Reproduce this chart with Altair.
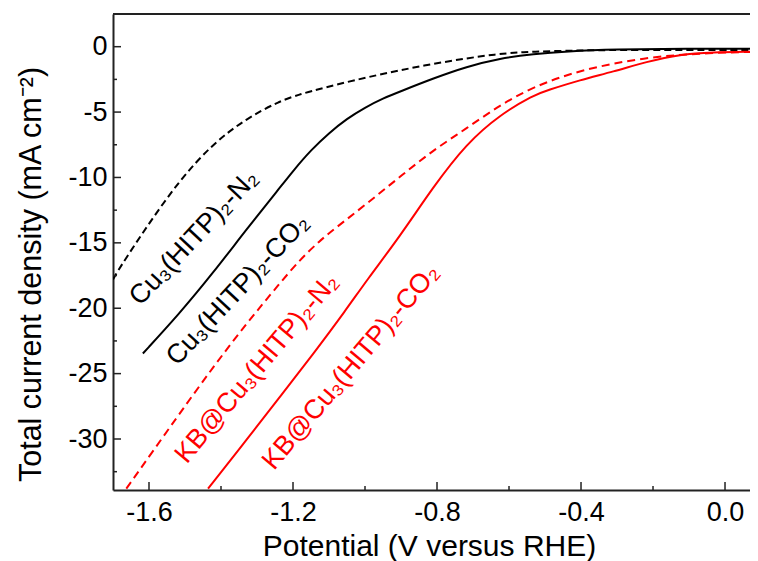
import altair as alt
import pandas as pd

# ---- data ----
# Cu3(HITP)2 under N2 (black dashed)
V_CU_N2 = [-1.70, -1.686, -1.6075, -1.515, -1.422, -1.330, -1.237, -1.181, -1.144, -1.00,
           -0.81, -0.625, -0.533, -0.40, -0.30, -0.10, 0.07]
J_CU_N2 = [-17.8, -17.1, -13.8, -10.2, -7.4, -5.5, -4.15, -3.65, -3.35, -2.35,
           -1.27, -0.5, -0.38, -0.28, -0.25, -0.25, -0.25]

# Cu3(HITP)2 under CO2 (black solid)
V_CU_CO2 = [-1.617, -1.515, -1.422, -1.330, -1.237, -1.20, -1.15, -1.10, -1.05, -1.00, -0.95,
            -0.90, -0.81, -0.718, -0.625, -0.532, -0.44, -0.31, -0.10, 0.07]
J_CU_CO2 = [-23.46, -20.4, -17.3, -14.0, -10.8, -9.5, -7.9, -6.6, -5.5, -4.65, -3.95,
            -3.4, -2.42, -1.53, -0.89, -0.56, -0.35, -0.2, -0.15, -0.15]

# KB@Cu3(HITP)2 under N2 (red dashed)
V_KB_N2 = [-1.663, -1.515, -1.422, -1.330, -1.237, -1.181, -1.126, -1.088, -0.995, -0.903,
           -0.81, -0.718, -0.625, -0.532, -0.403, -0.218, -0.032, 0.07]
J_KB_N2 = [-33.8, -28.05, -24.5, -21.2, -18.1, -16.3, -14.85, -14.0, -12.0, -9.95,
           -7.9, -6.25, -4.46, -3.06, -1.78, -0.77, -0.46, -0.4]

# KB@Cu3(HITP)2 under CO2 (red solid)
V_KB_CO2 = [-1.436, -1.330, -1.237, -1.144, -1.052, -0.995, -0.903, -0.81, -0.718, -0.625,
            -0.532, -0.495, -0.403, -0.31, -0.218, -0.125, -0.032, 0.07]
J_KB_CO2 = [-33.8, -30.1, -26.8, -23.5, -20.1, -17.85, -14.5, -10.7, -7.4, -5.2,
            -3.7, -3.35, -2.55, -1.91, -1.15, -0.58, -0.43, -0.38]

# annotations
LABELS = ["Cu\u2083(HITP)\u2082-N\u2082", "Cu\u2083(HITP)\u2082-CO\u2082",
          "KB@Cu\u2083(HITP)\u2082-N\u2082", "KB@Cu\u2083(HITP)\u2082-CO\u2082"]
LABEL_V = [-1.475, -1.353, -1.300, -1.039]
LABEL_J = [-14.6, -18.6, -24.6, -24.5]
LABEL_COLOR = ["#000000", "#000000", "#ff0000", "#ff0000"]
LABEL_ANGLE = [313, 313, 310, 310]

# ticks
X_MAJOR = [-1.6, -1.2, -0.8, -0.4, 0.0]
X_MINOR = [-1.4, -1.0, -0.6, -0.2]
Y_MAJOR = [0, -5, -10, -15, -20, -25, -30]
Y_MINOR = [-2.5, -7.5, -12.5, -17.5, -22.5, -27.5, -32.5]

X_DOMAIN = [-1.7, 0.0694]
Y_DOMAIN = [-33.9, 2.5]

W, H = 637, 476
FONT = "Liberation Sans, Arial, Helvetica, sans-serif"
AX = "#222222"

xs = alt.Scale(domain=X_DOMAIN, nice=False, zero=False)
ys = alt.Scale(domain=Y_DOMAIN, nice=False, zero=False)

x_axis = alt.Axis(
    values=X_MAJOR, format=".1f",
    labelExpr="replace(datum.label, '\u2212', '-')",
    ticks=False, grid=False, domainColor=AX, domainWidth=2,
    labelFont=FONT, labelFontSize=27, labelColor="#000", labelPadding=9,
    labelFlush=False,
    title="Potential (V versus RHE)", titleFont=FONT, titleFontSize=30,
    titleFontWeight="normal", titleColor="#000",
    titleX=316, titleY=65, titleAlign="center", titleBaseline="alphabetic",
)
y_axis = alt.Axis(
    values=Y_MAJOR, format="d",
    labelExpr="replace(datum.label, '\u2212', '-')",
    ticks=False, grid=False, domainColor=AX, domainWidth=2,
    labelFont=FONT, labelFontSize=27, labelColor="#000", labelPadding=6,
    labelFlush=False,
    title="Total current density (mA cm\u207b\u00b2)", titleFont=FONT, titleFontSize=30.5,
    titleFontWeight="normal", titleColor="#000",
    titleX=-73, titleY=260, titleAngle=270, titleAlign="center", titleBaseline="alphabetic",
)


def X(field="V:Q"):
    return alt.X(field, scale=xs, axis=x_axis)


def Y(field="J:Q"):
    return alt.Y(field, scale=ys, axis=y_axis)


def line(vs, js, color, dash=None):
    df = pd.DataFrame({"V": vs, "J": js})
    kw = dict(color=color, strokeWidth=2, clip=True, interpolate="basis")
    if dash is not None:
        kw["strokeDash"] = dash
    return alt.Chart(df).mark_line(**kw).encode(x=X(), y=Y(), order=alt.Order("V:Q"))


l1 = line(V_CU_N2, J_CU_N2, "#000000", [7, 4])
l2 = line(V_CU_CO2, J_CU_CO2, "#000000")
l3 = line(V_KB_N2, J_KB_N2, "#ff0000", [8, 5])
l4 = line(V_KB_CO2, J_KB_CO2, "#ff0000")

# inward ticks
xtick_major = alt.Chart(pd.DataFrame({"V": X_MAJOR})).mark_rule(color=AX, strokeWidth=1.5).encode(
    x=X(), y=alt.value(H), y2=alt.value(H - 8))
xtick_minor = alt.Chart(pd.DataFrame({"V": X_MINOR})).mark_rule(color=AX, strokeWidth=1.5).encode(
    x=X(), y=alt.value(H), y2=alt.value(H - 4))
ytick_major = alt.Chart(pd.DataFrame({"J": Y_MAJOR})).mark_rule(color=AX, strokeWidth=1.5).encode(
    y=Y(), x=alt.value(0), x2=alt.value(8))
ytick_minor = alt.Chart(pd.DataFrame({"J": Y_MINOR})).mark_rule(color=AX, strokeWidth=1.5).encode(
    y=Y(), x=alt.value(0), x2=alt.value(4))

# top frame line
top = alt.Chart(pd.DataFrame({"J": [Y_DOMAIN[1]]})).mark_rule(color=AX, strokeWidth=2).encode(
    y=Y(), x=alt.value(0), x2=alt.value(W))

texts = []
for lab, v, j, c, a in zip(LABELS, LABEL_V, LABEL_J, LABEL_COLOR, LABEL_ANGLE):
    df = pd.DataFrame({"V": [v], "J": [j], "t": [lab]})
    texts.append(
        alt.Chart(df).mark_text(angle=a, font=FONT, fontSize=27, color=c,
                                align="center", baseline="middle").encode(
            x=X(), y=Y(), text="t:N")
    )

chart = alt.layer(
    l1, l2, l3, l4, xtick_major, xtick_minor, ytick_major, ytick_minor, top, *texts
).properties(
    width=W, height=H,
    autosize=alt.AutoSizeParams(type="none"),
    padding={"left": 105, "top": 6, "right": 0, "bottom": 71},
).configure(
    background="white"
).configure_view(
    stroke=None
)

chart.save("out.html", embed_options={"renderer": "svg", "actions": False})
